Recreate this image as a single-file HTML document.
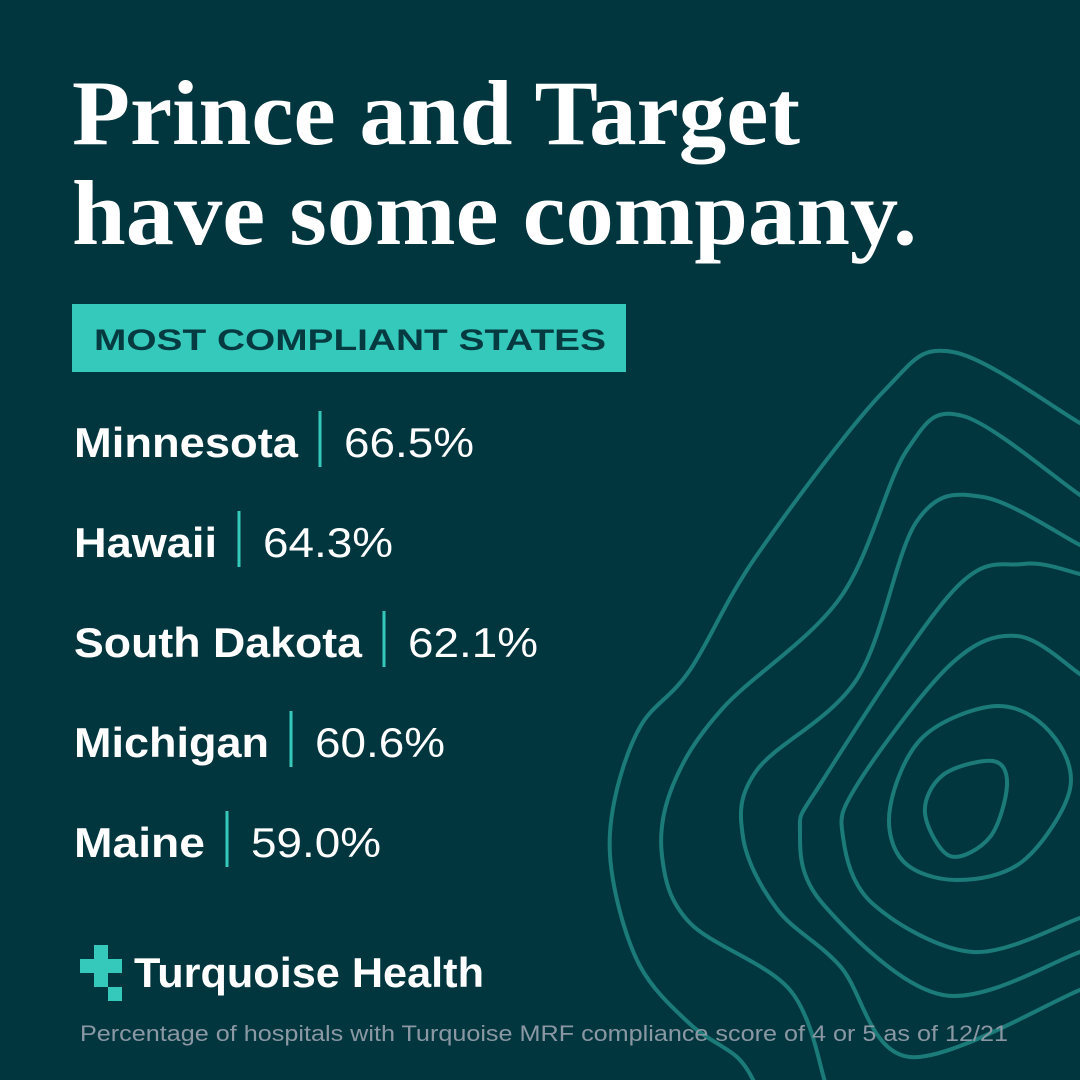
<!DOCTYPE html>
<html><head><meta charset="utf-8">
<style>
html,body{margin:0;padding:0;background:#02363e;}
svg{display:block}
</style></head>
<body>
<svg id="root" width="1080" height="1080" viewBox="0 0 1080 1080" xmlns="http://www.w3.org/2000/svg">
<rect width="1080" height="1080" fill="#02363e"/>
<g id="contours" fill="none" stroke="#1b7b79" stroke-width="4"></g>
<text x="72" y="144" font-family="Liberation Serif, serif" font-weight="bold" font-size="92" fill="#ffffff" textLength="728" lengthAdjust="spacingAndGlyphs">Prince and Target</text>
<text x="72" y="244" font-family="Liberation Serif, serif" font-weight="bold" font-size="92" fill="#ffffff" textLength="845" lengthAdjust="spacingAndGlyphs">have some company.</text>
<rect x="72" y="304" width="554" height="68" fill="#35c9bb"/>
<text x="94" y="350" font-family="Liberation Sans, sans-serif" font-weight="bold" font-size="30" fill="#053a40" textLength="512" lengthAdjust="spacingAndGlyphs">MOST COMPLIANT STATES</text>
<g id="rows"></g>
<g>
<rect x="94" y="945" width="14" height="42" fill="#35c9bb"/>
<rect x="80" y="959" width="42" height="14" fill="#35c9bb"/>
<rect x="108" y="987" width="14" height="14" fill="#35c9bb"/>
<text x="134" y="987" font-family="Liberation Sans, sans-serif" font-weight="bold" font-size="42" fill="#ffffff" textLength="350" lengthAdjust="spacingAndGlyphs">Turquoise Health</text>
</g>
<text x="80" y="1041" font-family="Liberation Sans, sans-serif" font-size="22" fill="#8a98a4" textLength="928" lengthAdjust="spacingAndGlyphs">Percentage of hospitals with Turquoise MRF compliance score of 4 or 5 as of 12/21</text>
</svg>
<script>
const states = ["Minnesota","Hawaii","South Dakota","Michigan","Maine"];
const values = [66.5, 64.3, 62.1, 60.6, 59.0];
const NS = "http://www.w3.org/2000/svg";
const rows = document.getElementById('rows');
const nameWidths = {"Minnesota":224,"Hawaii":143,"South Dakota":288,"Michigan":195,"Maine":131};
states.forEach((s,i)=>{
  const y = 457 + i*100;
  const t = document.createElementNS(NS,'text');
  t.setAttribute('x',74); t.setAttribute('y',y);
  t.setAttribute('font-family','Liberation Sans, sans-serif');
  t.setAttribute('font-weight','bold'); t.setAttribute('font-size','42');
  t.setAttribute('fill','#fff');
  const w = nameWidths[s] || s.length*24;
  t.setAttribute('textLength', w);
  t.setAttribute('lengthAdjust','spacingAndGlyphs');
  t.textContent = s;
  
  
  rows.appendChild(t);
  const bx = 74 + w + 22;
  const b = document.createElementNS(NS,'rect');
  b.setAttribute('x',bx-1.5); b.setAttribute('y',y-46);
  b.setAttribute('width',3); b.setAttribute('height',56);
  b.setAttribute('fill','#35c9bb');
  
  
  rows.appendChild(b);
  const v = document.createElementNS(NS,'text');
  v.setAttribute('x',bx+24); v.setAttribute('y',y);
  v.setAttribute('font-family','Liberation Sans, sans-serif');
  v.setAttribute('font-size','42'); v.setAttribute('fill','#fff');
  v.setAttribute('textLength',130);
  v.setAttribute('lengthAdjust','spacingAndGlyphs');
  v.textContent = values[i].toFixed(1)+'%';
  
  
  rows.appendChild(v);
});
const contours = [
 {closed:false,p:[[1090,428],[1080,423],[953,352],[883,392],[757,555],[690,670],[640,727],[613,808],[613,880],[640,966],[690,1024],[737,1057],[756,1085]]},
 {closed:false,p:[[1090,500],[1080,495],[963,416],[907,450],[840,598],[723,708],[673,785],[662,856],[690,923],[790,990],[826,1085]]},
 {closed:false,p:[[1090,550],[1080,545],[983,497],[917,521],[857,679],[757,770],[743,837],[777,909],[840,966],[910,1057],[1080,990],[1090,986]]},
 {closed:false,p:[[1090,578],[1080,574],[1023,564],[953,591],[823,780],[800,832],[823,904],[943,995],[1080,952],[1090,948]]},
 {closed:false,p:[[1090,682],[1080,674],[1017,636],[950,665],[857,785],[843,837],[873,904],[973,952],[1080,918],[1090,914]]},
 {closed:true,p:[[997,706],[923,737],[890,808],[903,861],[957,880],[1023,861],[1070,789],[1050,732]]},
 {closed:true,p:[[993,761],[943,775],[925,813],[950,856],[990,837],[1007,785]]}
];
function smooth(pts,closed){
  const n=pts.length; let d='M'+pts[0][0]+','+pts[0][1];
  const get=i=>closed?pts[(i+n)%n]:pts[Math.max(0,Math.min(n-1,i))];
  const last=closed?n:n-1;
  for(let i=0;i<last;i++){
    const p0=get(i-1),p1=get(i),p2=get(i+1),p3=get(i+2);
    const c1=[p1[0]+(p2[0]-p0[0])/6,p1[1]+(p2[1]-p0[1])/6];
    const c2=[p2[0]-(p3[0]-p1[0])/6,p2[1]-(p3[1]-p1[1])/6];
    d+=' C'+c1[0].toFixed(1)+','+c1[1].toFixed(1)+' '+c2[0].toFixed(1)+','+c2[1].toFixed(1)+' '+p2[0]+','+p2[1];
  }
  return d+(closed?'Z':'');
}
const cg=document.getElementById('contours');
contours.forEach(c=>{
  const p=document.createElementNS(NS,'path');
  p.setAttribute('d',smooth(c.p,c.closed));
  
  
  cg.appendChild(p);
});
</script>
</body></html>
